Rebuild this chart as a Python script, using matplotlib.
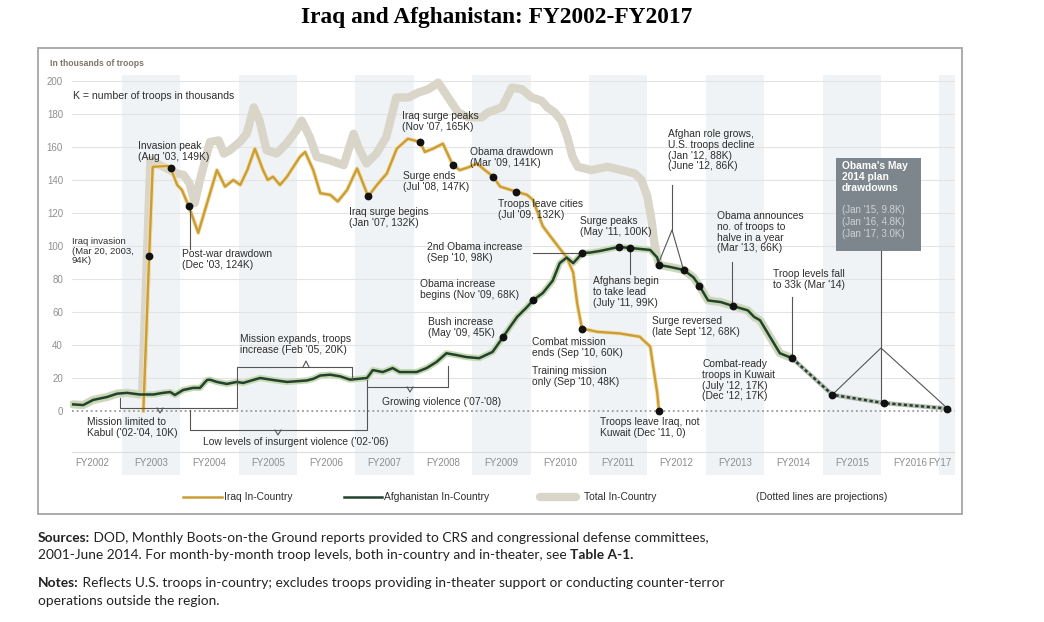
import matplotlib
matplotlib.use("Agg")
import matplotlib.pyplot as plt
import matplotlib.patheffects as pe
from matplotlib import font_manager
from matplotlib.lines import Line2D
from matplotlib.patches import Rectangle
import numpy as np

# ---- data: U.S. troops in-country, thousands; dates as decimal calendar years ----
iraq_date = [2003.12, 2003.22, 2003.28, 2003.54, 2003.59, 2003.70, 2003.78, 2003.90, 2004.06, 2004.38,
             2004.52, 2004.66, 2004.78, 2004.90, 2005.03, 2005.17, 2005.25, 2005.34, 2005.46, 2005.58,
             2005.80, 2005.89, 2006.03, 2006.15, 2006.32, 2006.45, 2006.61, 2006.78, 2006.86, 2006.97,
             2007.12, 2007.29, 2007.46, 2007.65, 2007.86, 2007.94, 2008.08, 2008.25, 2008.42, 2008.54,
             2008.71, 2008.83, 2009.11, 2009.23, 2009.50, 2009.69, 2009.79, 2009.96, 2010.13, 2010.37,
             2010.48, 2010.55, 2010.63, 2010.89, 2011.28, 2011.62, 2011.80, 2011.85, 2011.92, 2011.95]
iraq_k = [0, 94, 148, 148.5, 147, 137, 134, 124, 108, 146,
          136, 140, 137, 146, 159, 146, 140, 142, 137, 142,
          154, 157, 146, 132, 131, 127, 134, 147, 140, 130,
          137, 144, 159, 165, 163, 157, 159, 162, 149, 146,
          148, 150, 142, 136, 133, 131, 128, 112, 104, 93,
          84, 65, 50, 48, 47, 45, 39, 27, 11, 0]

afg_date = [2001.92, 2002.09, 2002.26, 2002.50, 2002.67, 2002.84, 2003.06, 2003.29, 2003.46, 2003.58,
            2003.66, 2003.80, 2003.97, 2004.09, 2004.21, 2004.26, 2004.38, 2004.55, 2004.72, 2004.83,
            2005.00, 2005.12, 2005.34, 2005.58, 2005.92, 2006.03, 2006.15, 2006.32, 2006.49, 2006.66,
            2006.95, 2007.05, 2007.22, 2007.39, 2007.51, 2007.80, 2007.97, 2008.14, 2008.31, 2008.48,
            2008.65, 2008.87, 2009.10, 2009.28, 2009.40, 2009.52, 2009.69, 2009.79, 2009.96, 2010.13,
            2010.25, 2010.37, 2010.48, 2010.64, 2010.77, 2010.94, 2011.18, 2011.27, 2011.46, 2011.80,
            2011.92, 2011.95, 2012.14, 2012.37, 2012.54, 2012.64, 2012.79, 2013.01, 2013.22, 2013.47,
            2013.58, 2013.68, 2013.85, 2014.02, 2014.23]
afg_k = [4, 3.6, 6.7, 8.5, 10.5, 11, 10, 10, 11, 11.5,
         9.7, 12.7, 14, 14, 18.8, 19, 17.6, 16.4, 17.6, 17,
         18.8, 20, 18.8, 17.6, 18.5, 19.5, 21.5, 22, 21, 19,
         20, 24.8, 23.6, 26, 23.6, 23.6, 26, 29.7, 35, 33.9,
         32.7, 32, 35.8, 44.8, 51, 57, 63, 67, 71.5, 79,
         89.6, 93, 89.6, 95.8, 96, 97, 98.8, 99.4, 98.8, 97.6,
         93, 88.5, 87.3, 85.5, 81, 76, 67, 66, 63.6, 61,
         57, 55, 45, 35, 32]

# projected drawdown (Obama's May 2014 plan)
proj_date = [2014.23, 2014.92, 2015.80, 2016.88]
proj_k = [32, 9.8, 4.8, 1.5]

# total in-country while both wars overlap
total_date = [2003.10, 2003.24, 2003.46, 2003.69, 2003.81, 2003.91, 2004.00, 2004.09, 2004.26, 2004.41,
              2004.50, 2004.60, 2004.77, 2004.89, 2005.01, 2005.11, 2005.23, 2005.40, 2005.57, 2005.74,
              2005.83, 2005.97, 2006.09, 2006.31, 2006.55, 2006.72, 2006.80, 2006.94, 2007.11, 2007.28,
              2007.45, 2007.66, 2007.83, 2008.00, 2008.17, 2008.34, 2008.51, 2008.68, 2008.92, 2009.02,
              2009.26, 2009.43, 2009.60, 2009.77, 2009.94, 2010.04, 2010.16, 2010.28, 2010.38, 2010.47,
              2010.56, 2010.79, 2011.07, 2011.31, 2011.53, 2011.65, 2011.75, 2011.82, 2011.87]
total_k = [11, 152, 148, 144, 143, 138, 126, 140, 163, 164,
           156, 158, 163, 168, 184, 176, 158, 156, 162, 170,
           176, 166, 154, 152, 149, 168, 160, 150, 156, 166,
           190, 190, 193, 195, 199, 190, 181, 178, 178, 181,
           184, 196, 195, 190, 188, 184, 181, 176, 166, 154,
           148, 146, 148, 146, 144, 140, 130, 116, 102]

# marked events
iraq_event_date = [2003.22, 2003.59, 2003.90, 2006.97, 2007.86, 2008.42, 2009.11, 2009.50, 2010.63, 2011.95]
iraq_event_k = [94, 147, 124, 130, 163, 149, 142, 133, 50, 0]
afg_event_date = [2009.28, 2009.79, 2010.64, 2011.27, 2011.46, 2011.95, 2012.37, 2012.64, 2013.22, 2014.23]
afg_event_k = [44.8, 67, 95.8, 99.4, 98.8, 88.5, 85.5, 76, 63.6, 32]

fy_labels = ["FY2002", "FY2003", "FY2004", "FY2005", "FY2006", "FY2007", "FY2008", "FY2009",
             "FY2010", "FY2011", "FY2012", "FY2013", "FY2014", "FY2015", "FY2016", "FY17"]
fy_years = list(range(2002, 2018))

# ---- layout helpers (reference image is 1044 x 622 px) ----
W, H = 1044, 622


def T(x):
    """reference pixel x -> decimal year"""
    return 2003.2 + (x - 148) / 58.4


def V(y):
    """reference pixel y -> thousands of troops"""
    return (411 - y) / 1.65


def pick_font(names, default):
    for n in names:
        try:
            font_manager.findfont(n, fallback_to_default=False)
            return n
        except ValueError:
            pass
    return default


CF, FS = "Liberation Sans", 7.4
BODY = pick_font(["Lato", "Open Sans"], "DejaVu Sans")

IRAQ = "#cc9c36"
AFG = "#23412f"
AFG_GLOW = "#c6d9b0"
TOTAL = "#d9d5c9"
BAND = "#f0f3f6"
TXT = "#2e2e2e"
LEAD = "#555555"

fig = plt.figure(figsize=(W / 100, H / 100), dpi=100)
fig.patch.set_facecolor("white")
ax = fig.add_axes([70 / W, 1 - 475 / H, 885 / W, 400 / H])
ax.set_xlim(T(70), T(955))
ax.set_ylim(V(475), V(75))
for s in ax.spines.values():
    s.set_visible(False)
ax.set_xticks([])
ax.set_yticks(range(0, 201, 20))
ax.tick_params(axis="y", length=0, pad=5, labelsize=FS - 0.4, labelcolor="#8f8f8f")
for lab in ax.get_yticklabels():
    lab.set_fontfamily(CF)

# alternate fiscal-year bands (odd FYs shaded); FY runs Oct-Sep
for fy in fy_years[1::2]:
    ax.axvspan(fy - 0.25, fy + 0.75, color=BAND, lw=0, zorder=0)

# grid
for v in range(20, 201, 20):
    ax.plot([T(72), T(955)], [v, v], color="#e3e3e3", lw=0.8, zorder=1)
ax.plot([T(72), T(955)], [0, 0], color="#9a9a9a", lw=1.3, ls=(0, (1, 1.6)), zorder=1)
ax.plot([T(72), T(955)], [V(452), V(452)], color="#dddddd", lw=0.8, zorder=1)

# FY labels, centred in each fiscal year (last one squeezed at the edge)
for lab, fy in zip(fy_labels, fy_years):
    xc = min(fy + 0.25, T(940))
    ax.text(xc, V(463), lab, ha="center", va="center", fontsize=FS - 0.4,
            color="#8c8c8c", family=CF)

# ---- series ----
afg_date_a = np.array(afg_date)
afg_k_a = np.array(afg_k)
pre = afg_date_a < 2003.1
post = afg_date_a > 2011.9
tot_x = np.concatenate([afg_date_a[pre], total_date, afg_date_a[post]])
tot_y = np.concatenate([afg_k_a[pre], total_k, afg_k_a[post]])
ax.plot(tot_x, tot_y, color=TOTAL, lw=6, solid_capstyle="round", solid_joinstyle="round", zorder=2)

ax.plot(afg_date, afg_k, color=AFG_GLOW, lw=4.5, solid_joinstyle="round", zorder=3)
ax.plot(iraq_date, iraq_k, color=IRAQ, lw=1.7, solid_joinstyle="round", zorder=4,
        path_effects=[pe.Stroke(linewidth=3, foreground="#f1e1ad"), pe.Normal()])
ax.plot(afg_date, afg_k, color=AFG, lw=1.8, solid_joinstyle="round", zorder=5)

ax.plot(proj_date, proj_k, color="#b9bdb4", lw=3.2, zorder=3)
ax.plot(proj_date, proj_k, color=AFG, lw=1.8, ls=(0, (1.3, 1.0)), zorder=5)

ax.plot(iraq_event_date, iraq_event_k, "o", color="#111111", ms=4.6, zorder=6)
ax.plot(afg_event_date, afg_event_k, "o", color="#111111", ms=4.6, zorder=6)
ax.plot(proj_date[1:], proj_k[1:], "o", color="#111111", ms=4.6, zorder=6)


# ---- annotations ----
def note(s, x, y, **kw):
    # x = left edge, y = centre of first line, both in reference pixels
    kw.setdefault("fontsize", FS)
    kw.setdefault("color", TXT)
    kw.setdefault("family", CF)
    ax.text(T(x), V(y - 6), s, ha="left", va="top", linespacing=1.1, zorder=7, **kw)


def lead(xs, ys):
    ax.plot([T(x) for x in xs], [V(y) for y in ys], color=LEAD, lw=0.8, zorder=5.5)


ax.text(T(50), V(64), "In thousands of troops", fontsize=FS - 1.2, fontweight="bold",
        color="#7f7468", family=CF, ha="left", va="center", clip_on=False)
note("K = number of troops in thousands", 73, 97, fontsize=FS + 0.2)

note("Iraq invasion\n(Mar 20, 2003,\n94K)", 72, 243, fontsize=FS - 0.6)
note("Invasion peak\n(Aug '03, 149K)", 138, 147)
note("Post-war drawdown\n(Dec '03, 124K)", 182, 255)
lead([190, 190], [210, 249])
note("Iraq surge begins\n(Jan '07, 132K)", 349, 213)
note("Iraq surge peaks\n(Nov '07, 165K)", 402, 117)
note("Surge ends\n(Jul '08, 147K)", 403, 177)
note("Obama drawdown\n(Mar '09, 141K)", 470, 153)
note("Troops leave cities\n(Jul '09, 132K)", 498, 205)
note("2nd Obama increase\n(Sep '10, 98K)", 427, 248)
lead([533, 582], [253, 253])
note("Obama increase\nbegins (Nov '09, 68K)", 420, 285)
note("Bush increase\n(May '09, 45K)", 428, 323)
note("Mission expands, troops\nincrease (Feb '05, 20K)", 240, 340)
note("Combat mission\nends (Sep '10, 60K)", 532, 343)
note("Training mission\nonly (Sep '10, 48K)", 532, 372)
note("Growing violence ('07-'08)", 382, 403)
note("Mission limited to\nKabul ('02-'04, 10K)", 87, 423)
note("Low levels of insurgent violence ('02-'06)", 203, 443)
note("Troops leave Iraq, not\nKuwait (Dec '11, 0)", 600, 423)
note("Surge peaks\n(May '11, 100K)", 580, 222)
note("Afghans begin\nto take lead\n(July '11, 99K)", 593, 282)
lead([630, 630], [250, 274])
note("Surge reversed\n(late Sept '12, 68K)", 652, 322)
note("Afghan role grows,\nU.S. troops decline\n(Jan '12, 88K)\n(June '12, 86K)", 668, 135)
lead([672, 672], [185, 230])
lead([659, 672, 683], [262, 230, 268])
note("Obama announces\nno. of troops to\nhalve in a year\n(Mar '13, 66K)", 717, 217)
lead([732, 732], [262, 304])
note("Troop levels fall\nto 33k (Mar '14)", 773, 275)
lead([792, 792], [297, 355])
note("Combat-ready\ntroops in Kuwait\n(July '12, 17K)\n(Dec '12, 17K)", 702, 365)

# brackets
lead([237, 237, 352, 352], [408, 367, 367, 380])   # mission expands
lead([303, 306, 309], [367, 361, 367])
lead([120, 120, 237], [398, 408, 408])             # mission limited to Kabul
lead([157, 160, 163], [408, 413, 408])
lead([190, 190, 367, 367], [410, 430, 430, 380])   # low levels of violence
lead([275, 278, 281], [430, 435, 430])
lead([367, 448, 448], [387, 387, 366])             # growing violence
lead([407, 410, 413], [387, 392, 387])

# Obama's May 2014 plan box
ax.add_patch(Rectangle((T(836), V(251)), T(921) - T(836), V(158) - V(251),
                       fc="#7d868c", ec="none", zorder=8))
ax.text(T(842), V(161), "Obama's May\n2014 plan\ndrawdowns", ha="left", va="top", color="white",
        fontsize=FS, fontweight="bold", family=CF, linespacing=1.1, zorder=9)
ax.text(T(842), V(205), "(Jan '15, 9.8K)\n(Jan '16, 4.8K)\n(Jan '17, 3.0K)", ha="left", va="top",
        color="#cfd3d6", fontsize=FS - 0.4, family=CF, linespacing=1.25, zorder=9)
lead([881, 881], [251, 403])
lead([832, 881, 947], [395, 348, 408])

# ---- legend (figure pixels) ----
def fig_line(x0, x1, y, **kw):
    fig.add_artist(Line2D([x0 / W, x1 / W], [1 - y / H, 1 - y / H], transform=fig.transFigure, **kw))


def fig_text(x, y, s, **kw):
    kw.setdefault("family", CF)
    kw.setdefault("fontsize", FS)
    kw.setdefault("color", TXT)
    return fig.text(x / W, 1 - y / H, s, ha="left", va="center", **kw)


fig_line(183, 222, 497, color=IRAQ, lw=1.8)
fig_text(224, 497, "Iraq In-Country")
fig_line(344, 382, 497, color=AFG, lw=1.8)
fig_text(384, 497, "Afghanistan In-Country")
fig_line(540, 576, 497, color=TOTAL, lw=6, solid_capstyle="round")
fig_text(584, 497, "Total In-Country")
fig_text(756, 497, "(Dotted lines are projections)")

# outer frame
fig.add_artist(Rectangle((38 / W, 1 - 514 / H), 924 / W, 466 / H, transform=fig.transFigure,
                         fill=False, ec="#a5a5a5", lw=1.3))

# title
fig.text(497 / W, 1 - 18 / H, "Iraq and Afghanistan: FY2002-FY2017", ha="center", va="center",
         family="Liberation Serif", fontweight="bold", fontsize=16.8)

# sources and notes, with bold run-in heads
fig.canvas.draw()
renderer = fig.canvas.get_renderer()


def run(parts, x, y):
    for s, bold in parts:
        t = fig.text(x / W, 1 - y / H, s, ha="left", va="center", family=BODY, fontsize=9.9,
                     fontweight="bold" if bold else "normal", color="#222222")
        x = t.get_window_extent(renderer).x1


run([("Sources:", True),
     (" DOD, Monthly Boots-on-the Ground reports provided to CRS and congressional defense committees,", False)],
    38, 538)
run([("2001-June 2014. For month-by-month troop levels, both in-country and in-theater, see ", False),
     ("Table A-1.", True)], 38, 555)
run([("Notes:", True),
     (" Reflects U.S. troops in-country; excludes troops providing in-theater support or conducting counter-terror",
      False)], 38, 583)
run([("operations outside the region.", False)], 38, 601)

fig.savefig("out.png", dpi=100, facecolor="white")
